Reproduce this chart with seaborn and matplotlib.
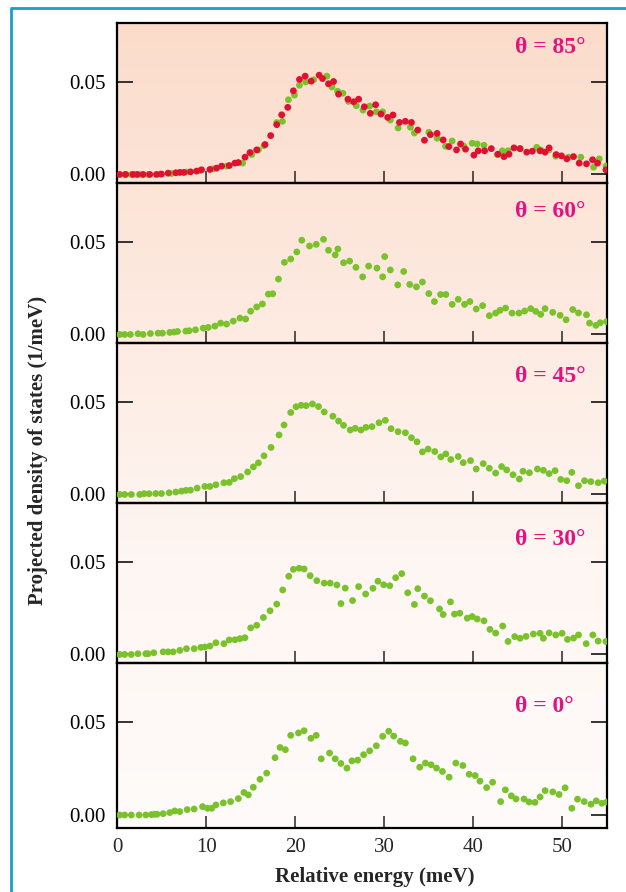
import numpy as np
import pandas as pd
import matplotlib
matplotlib.use("Agg")
import matplotlib.pyplot as plt
import seaborn as sns
from matplotlib.colors import LinearSegmentedColormap
from matplotlib.lines import Line2D

# ---------------- data ----------------
angle_labels = ["θ = 85°", "θ = 60°", "θ = 45°", "θ = 30°", "θ = 0°"]

x_85_red = [0.30, 0.98, 1.80, 2.25, 2.93, 3.68, 4.43, 4.99, 5.74, 6.60, 7.05, 7.50, 8.25, 8.93, 9.49,
            10.43, 11.18, 11.74, 12.60, 13.24, 13.62, 14.37, 14.93, 15.68, 16.62, 17.25, 17.93, 18.49,
            19.17, 19.80, 20.48, 21.12, 21.79, 22.69, 23.07, 23.74, 24.31, 24.87, 25.92, 26.56, 27.12,
            27.76, 28.43, 29.03, 29.63, 30.38, 30.98, 31.70, 32.37, 33.05, 33.76, 34.51, 35.18, 35.93,
            36.61, 37.25, 38.11, 38.56, 39.12, 40.06, 40.55, 41.26, 42.01, 42.76, 43.44, 44.00, 44.56,
            45.24, 45.99, 46.62, 47.49, 48.05, 48.50, 49.29, 49.89, 50.49, 51.24, 51.88, 52.70, 53.38,
            53.94, 54.88]
y_85_red = [0.0000, 0.0000, 0.0000, 0.0000, 0.0000, 0.0000, 0.0000, 0.0002, 0.0007, 0.0009, 0.0011,
            0.0011, 0.0014, 0.0018, 0.0025, 0.0027, 0.0034, 0.0045, 0.0048, 0.0061, 0.0064, 0.0093,
            0.0118, 0.0132, 0.0161, 0.0209, 0.0268, 0.0321, 0.0361, 0.0450, 0.0511, 0.0529, 0.0502,
            0.0534, 0.0516, 0.0488, 0.0500, 0.0432, 0.0405, 0.0391, 0.0405, 0.0364, 0.0329, 0.0375,
            0.0325, 0.0307, 0.0320, 0.0280, 0.0286, 0.0280, 0.0239, 0.0184, 0.0214, 0.0221, 0.0186,
            0.0150, 0.0132, 0.0164, 0.0136, 0.0104, 0.0127, 0.0127, 0.0139, 0.0109, 0.0096, 0.0109,
            0.0143, 0.0139, 0.0120, 0.0125, 0.0127, 0.0120, 0.0143, 0.0107, 0.0100, 0.0084, 0.0096,
            0.0061, 0.0057, 0.0079, 0.0061, 0.0025]

x_85_green = [0.86, 1.61, 2.55, 3.49, 4.80, 6.11, 7.80, 9.30, 10.80, 12.30, 14.10, 15.12, 15.87, 16.50,
              17.93, 18.57, 19.24, 19.92, 20.48, 21.19, 22.06, 23.56, 24.12, 24.76, 25.36, 25.99, 26.86,
              27.61, 28.36, 29.11, 29.82, 30.68, 31.55, 32.93, 33.38, 35.00, 35.93, 36.87, 37.62, 38.93,
              39.87, 40.43, 41.19, 42.69, 43.25, 43.89, 45.24, 47.11, 47.56, 48.50, 49.25, 50.68, 52.06,
              53.49, 54.13, 54.88]
y_85_green = [0.0000, 0.0000, 0.0000, 0.0000, 0.0002, 0.0005, 0.0013, 0.0021, 0.0030, 0.0045, 0.0061,
              0.0107, 0.0132, 0.0155, 0.0279, 0.0286, 0.0402, 0.0427, 0.0480, 0.0498, 0.0509, 0.0529,
              0.0471, 0.0448, 0.0437, 0.0393, 0.0370, 0.0346, 0.0368, 0.0337, 0.0337, 0.0293, 0.0250,
              0.0254, 0.0223, 0.0227, 0.0195, 0.0152, 0.0180, 0.0152, 0.0168, 0.0164, 0.0157, 0.0107,
              0.0127, 0.0127, 0.0138, 0.0146, 0.0132, 0.0132, 0.0098, 0.0093, 0.0093, 0.0039, 0.0084,
              0.0045]

x_60 = [0.30, 0.86, 1.50, 2.36, 2.93, 3.75, 4.61, 5.10, 5.93, 6.38, 6.79, 7.73, 8.10, 8.81, 9.68, 10.24,
        10.99, 11.63, 12.30, 13.05, 13.80, 14.44, 15.00, 15.68, 16.32, 16.99, 17.48, 18.12, 18.79, 19.50,
        20.18, 20.74, 21.61, 22.36, 23.18, 23.74, 24.49, 24.79, 25.43, 26.11, 26.82, 27.57, 28.24, 29.18,
        29.82, 30.05, 30.68, 31.51, 32.18, 32.86, 33.61, 34.28, 35.00, 35.63, 36.31, 36.91, 37.62, 38.30,
        39.01, 39.61, 40.32, 41.04, 41.79, 42.50, 42.99, 43.62, 44.34, 45.12, 45.76, 46.44, 47.00, 47.56,
        48.05, 48.91, 49.74, 50.41, 51.16, 51.80, 52.70, 53.04, 53.75, 54.24, 54.95]
y_60 = [0.0000, 0.0000, 0.0000, 0.0004, 0.0000, 0.0005, 0.0007, 0.0007, 0.0011, 0.0013, 0.0016, 0.0018,
        0.0020, 0.0025, 0.0034, 0.0038, 0.0045, 0.0061, 0.0056, 0.0072, 0.0088, 0.0083, 0.0125, 0.0148,
        0.0164, 0.0217, 0.0219, 0.0298, 0.0388, 0.0406, 0.0444, 0.0507, 0.0476, 0.0485, 0.0512, 0.0453,
        0.0428, 0.0460, 0.0386, 0.0395, 0.0361, 0.0310, 0.0368, 0.0357, 0.0310, 0.0419, 0.0347, 0.0267,
        0.0339, 0.0269, 0.0256, 0.0282, 0.0220, 0.0177, 0.0215, 0.0215, 0.0162, 0.0189, 0.0162, 0.0177,
        0.0137, 0.0155, 0.0101, 0.0115, 0.0130, 0.0142, 0.0115, 0.0115, 0.0126, 0.0139, 0.0124, 0.0108,
        0.0139, 0.0119, 0.0103, 0.0079, 0.0134, 0.0116, 0.0106, 0.0061, 0.0049, 0.0063, 0.0069]

x_45 = [0.30, 0.86, 1.61, 2.55, 3.04, 3.60, 4.35, 4.99, 5.85, 6.60, 7.24, 7.73, 8.25, 9.00, 9.86, 10.43,
        11.10, 12.00, 12.60, 13.17, 13.88, 14.66, 15.30, 15.87, 16.50, 17.29, 18.19, 18.75, 19.50, 20.10,
        20.67, 21.23, 21.94, 22.62, 23.26, 24.23, 24.87, 25.43, 26.18, 26.74, 27.38, 27.94, 28.62, 29.41,
        30.12, 30.76, 31.55, 32.37, 33.05, 33.68, 34.28, 34.92, 35.67, 36.35, 36.91, 37.47, 38.30, 38.86,
        39.68, 40.32, 41.11, 41.79, 42.50, 43.17, 43.74, 44.45, 45.16, 45.57, 46.29, 47.19, 47.86, 48.50,
        49.17, 49.81, 50.49, 51.05, 51.80, 52.48, 53.19, 54.01, 54.69]
y_45 = [0.0000, 0.0000, 0.0000, 0.0000, 0.0004, 0.0004, 0.0005, 0.0005, 0.0009, 0.0013, 0.0018, 0.0022,
        0.0023, 0.0034, 0.0043, 0.0043, 0.0052, 0.0063, 0.0065, 0.0085, 0.0096, 0.0121, 0.0148, 0.0170,
        0.0208, 0.0253, 0.0320, 0.0374, 0.0441, 0.0472, 0.0480, 0.0478, 0.0487, 0.0473, 0.0444, 0.0421,
        0.0395, 0.0372, 0.0347, 0.0356, 0.0347, 0.0361, 0.0365, 0.0386, 0.0399, 0.0354, 0.0338, 0.0332,
        0.0305, 0.0283, 0.0229, 0.0244, 0.0231, 0.0202, 0.0218, 0.0188, 0.0204, 0.0171, 0.0182, 0.0137,
        0.0166, 0.0141, 0.0115, 0.0150, 0.0132, 0.0106, 0.0083, 0.0125, 0.0117, 0.0137, 0.0130, 0.0112,
        0.0128, 0.0081, 0.0074, 0.0119, 0.0047, 0.0074, 0.0069, 0.0063, 0.0072]

x_30 = [0.30, 0.86, 1.61, 2.36, 3.23, 3.49, 4.13, 5.18, 5.74, 6.30, 7.05, 7.80, 8.66, 9.41, 9.86, 10.43,
        11.10, 12.00, 12.60, 13.24, 13.80, 14.36, 15.00, 15.68, 16.43, 17.18, 17.93, 18.60, 19.28, 19.80,
        20.44, 21.00, 21.68, 22.43, 23.26, 23.93, 24.68, 25.13, 25.62, 26.44, 27.12, 27.91, 28.73, 29.29,
        29.93, 30.61, 31.28, 31.96, 32.63, 33.38, 33.76, 34.51, 35.18, 36.20, 36.61, 37.43, 37.88, 38.48,
        39.31, 39.87, 40.43, 41.19, 41.86, 42.50, 43.29, 43.89, 44.64, 45.24, 45.91, 46.74, 47.49, 47.86,
        48.50, 49.25, 49.96, 50.56, 51.24, 51.80, 52.66, 53.41, 54.01, 54.88]
y_30 = [0.0000, 0.0000, 0.0000, 0.0004, 0.0004, 0.0004, 0.0009, 0.0014, 0.0014, 0.0014, 0.0022, 0.0031,
        0.0031, 0.0038, 0.0040, 0.0045, 0.0063, 0.0058, 0.0078, 0.0079, 0.0085, 0.0090, 0.0143, 0.0157,
        0.0199, 0.0235, 0.0271, 0.0347, 0.0421, 0.0458, 0.0464, 0.0460, 0.0424, 0.0397, 0.0384, 0.0384,
        0.0374, 0.0274, 0.0357, 0.0290, 0.0365, 0.0325, 0.0356, 0.0394, 0.0375, 0.0370, 0.0413, 0.0435,
        0.0332, 0.0269, 0.0354, 0.0314, 0.0289, 0.0245, 0.0215, 0.0283, 0.0217, 0.0222, 0.0195, 0.0204,
        0.0191, 0.0181, 0.0135, 0.0115, 0.0153, 0.0070, 0.0096, 0.0087, 0.0097, 0.0110, 0.0114, 0.0087,
        0.0116, 0.0105, 0.0114, 0.0081, 0.0088, 0.0105, 0.0058, 0.0105, 0.0072, 0.0070]

x_0 = [0.30, 0.86, 1.61, 2.48, 3.23, 3.86, 4.24, 4.50, 5.18, 5.93, 6.49, 7.05, 7.88, 8.66, 9.60, 10.16,
       10.62, 11.10, 11.93, 12.75, 13.62, 14.25, 14.74, 15.30, 16.05, 16.80, 17.74, 18.30, 18.90, 19.50,
       20.37, 21.00, 21.76, 22.36, 22.92, 23.86, 24.49, 25.13, 25.81, 26.37, 27.01, 27.68, 28.36, 29.11,
       29.82, 30.50, 31.06, 31.81, 32.37, 33.23, 33.98, 34.62, 35.26, 35.86, 36.53, 37.28, 38.03, 38.82,
       39.53, 40.21, 40.74, 41.49, 42.16, 43.06, 43.59, 44.26, 44.79, 45.69, 46.25, 46.92, 47.49, 48.05,
       48.91, 49.62, 50.30, 51.05, 51.69, 52.44, 53.19, 53.79, 54.43, 54.99]
y_0 = [0.0000, 0.0000, 0.0000, 0.0000, 0.0000, 0.0002, 0.0004, 0.0004, 0.0007, 0.0013, 0.0022, 0.0018,
       0.0029, 0.0032, 0.0045, 0.0036, 0.0036, 0.0054, 0.0065, 0.0072, 0.0088, 0.0121, 0.0108, 0.0149,
       0.0192, 0.0225, 0.0308, 0.0363, 0.0351, 0.0428, 0.0441, 0.0453, 0.0412, 0.0428, 0.0302, 0.0333,
       0.0302, 0.0277, 0.0252, 0.0291, 0.0295, 0.0324, 0.0345, 0.0372, 0.0423, 0.0450, 0.0424, 0.0396,
       0.0387, 0.0302, 0.0257, 0.0279, 0.0270, 0.0252, 0.0234, 0.0203, 0.0279, 0.0266, 0.0219, 0.0212,
       0.0182, 0.0147, 0.0176, 0.0072, 0.0135, 0.0103, 0.0086, 0.0086, 0.0070, 0.0068, 0.0097, 0.0131,
       0.0124, 0.0110, 0.0146, 0.0036, 0.0085, 0.0072, 0.0058, 0.0076, 0.0063, 0.0070]

x_ticks = [0, 10, 20, 30, 40, 50]
y_ticks = [0.00, 0.05]
y_ticklabels = ["0.00", "0.05"]

# ---------------- style ----------------
sns.set_theme(style="ticks")
plt.rcParams["font.family"] = ["Liberation Serif", "DejaVu Serif"]

GREEN = "#79c22b"
RED = "#df1030"
MAGENTA = "#e4127f"

W, H = 626, 892
fig = plt.figure(figsize=(W / 100, H / 100), dpi=100)
fig.patch.set_facecolor("white")

left_px, right_px = 117, 607
panel_px = [(23, 183), (183, 343), (343, 503), (503, 663), (663, 828)]
ylims = [(-0.0046, 0.0815)] * 4 + [(-0.0070, 0.0817)]
label_y = [0.844, 0.819, 0.788, 0.769, 0.739]
label_x = (515 - 117) / (607 - 117)

def fx(px):
    return px / W

def fy(py):
    return 1 - py / H

# background gradient behind the panels
bg = fig.add_axes([fx(left_px), fy(828), fx(right_px - left_px), (828 - 23) / H], zorder=0)
cmap = LinearSegmentedColormap.from_list("bg", ["#fbdccb", "#fde9df", "#fef6f2", "#fffbfa"])
grad = np.linspace(0, 1, 256).reshape(-1, 1)
bg.imshow(grad, aspect="auto", cmap=cmap, extent=[0, 1, 0, 1], origin="upper")
bg.set_axis_off()

panels = [
    [(x_85_green, y_85_green, GREEN), (x_85_red, y_85_red, RED)],
    [(x_60, y_60, GREEN)],
    [(x_45, y_45, GREEN)],
    [(x_30, y_30, GREEN)],
    [(x_0, y_0, GREEN)],
]

for i, ((top, bot), series) in enumerate(zip(panel_px, panels)):
    ax = fig.add_axes([fx(left_px), fy(bot), fx(right_px - left_px), (bot - top) / H], zorder=2)
    ax.set_facecolor("none")
    for xs, ys, col in series:
        df = pd.DataFrame({"energy": xs, "pdos": ys})
        sns.scatterplot(data=df, x="energy", y="pdos", ax=ax, color=col, s=24,
                        edgecolor="none", linewidth=0, legend=False, zorder=3, clip_on=True)
    ax.set_xlim(0, 55)
    ax.set_ylim(*ylims[i])
    ax.set_xticks(x_ticks)
    ax.set_yticks(y_ticks)
    ax.set_yticklabels(y_ticklabels)
    ax.tick_params(axis="y", direction="in", length=11.5, width=1.1, left=True, right=True,
                   labelsize=15, pad=8, colors="black")
    ax.tick_params(axis="x", direction="in", length=8.5, width=1.1, bottom=True, top=False,
                   labelsize=15, pad=7, labelbottom=(i == 4))
    ax.set_xlabel("")
    ax.set_ylabel("")
    for sp in ax.spines.values():
        sp.set_visible(True)
        sp.set_linewidth(1.6)
        sp.set_color("black")
    ax.text(label_x, label_y[i], angle_labels[i], transform=ax.transAxes,
            ha="left", va="center", fontsize=17, fontweight="bold", color=MAGENTA, zorder=5)

fig.text(fx(38), 1 - 450 / H, "Projected density of states (1/meV)", rotation=90,
         ha="center", va="center", fontsize=15, fontweight="bold")
fig.text(fx(375), 1 - 877 / H, "Relative energy (meV)", ha="center", va="center",
         fontsize=15, fontweight="bold")

# blue frame of the figure box (left and top edges)
frame_col = "#1b9dca"
fig.add_artist(Line2D([fx(11), fx(11)], [0, fy(8)], transform=fig.transFigure,
                      color=frame_col, lw=2.0, solid_capstyle="butt"))
fig.add_artist(Line2D([fx(10.3), 1], [fy(8), fy(8)], transform=fig.transFigure,
                      color=frame_col, lw=2.0, solid_capstyle="butt"))

fig.savefig("out.png", dpi=100)
